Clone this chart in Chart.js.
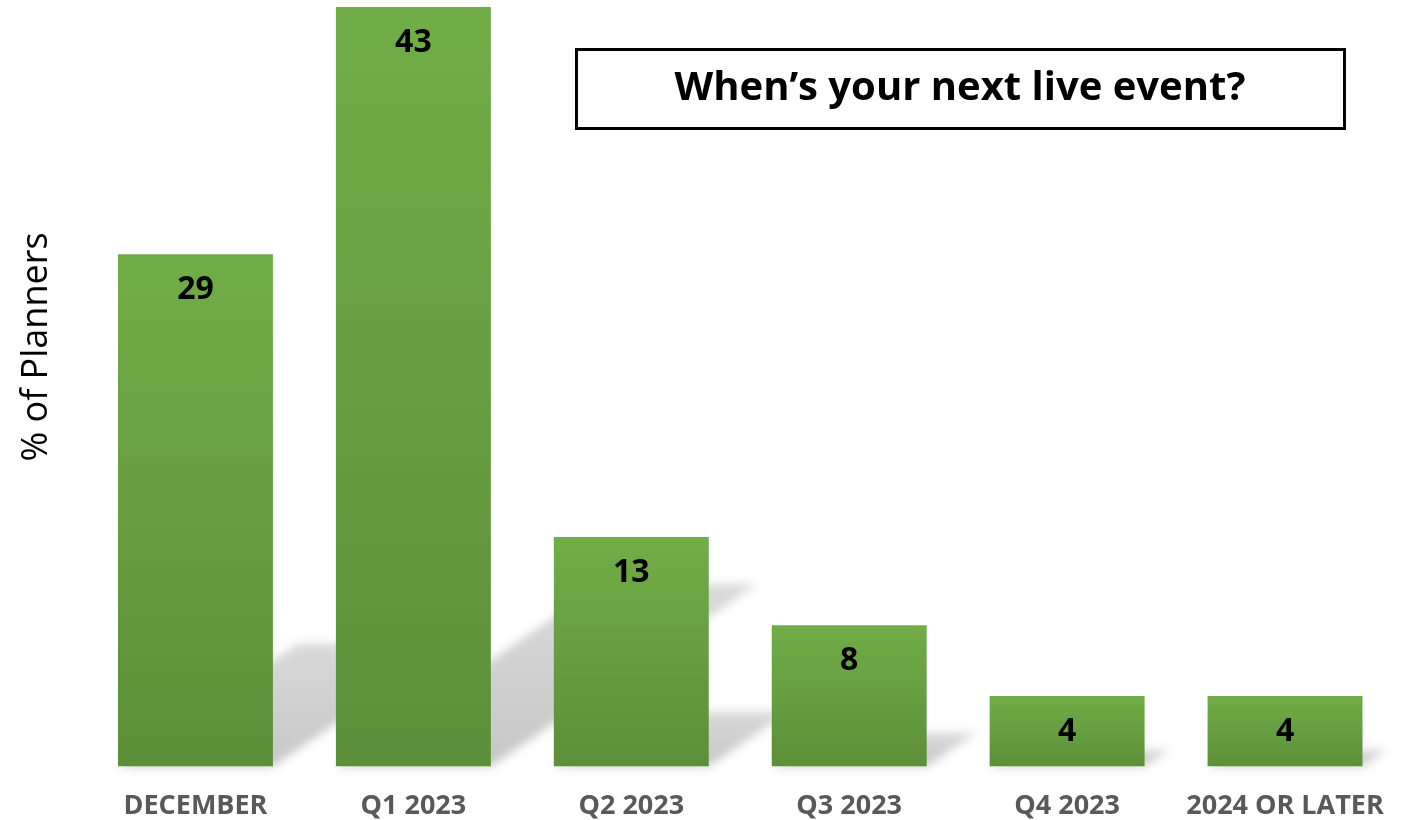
<!DOCTYPE html>
<html>
<head>
<meta charset="utf-8">
<script src="https://cdn.jsdelivr.net/npm/chart.js@4.4.1/dist/chart.umd.min.js"></script>
<style>
  html, body { margin: 0; padding: 0; background: #fff; }
  #wrap { width: 1414px; height: 820px; position: relative; }
</style>
</head>
<body>
<div id="wrap"><canvas id="eventChart"></canvas></div>
<script>
const labels = ['DECEMBER', 'Q1 2023', 'Q2 2023', 'Q3 2023', 'Q4 2023', '2024 OR LATER'];
const planners = [29, 43, 13, 8, 4, 4];
const chartTitle = 'When\u2019s your next live event?';
const axisTitle = '% of Planners';

// floor shadow behind each bar, leaning up and to the right
const barShadows = {
  id: 'barShadows',
  beforeDatasetsDraw(chart) {
    const ctx = chart.ctx;
    const meta = chart.getDatasetMeta(0);
    ctx.save();
    ctx.filter = 'blur(5px)';
    meta.data.forEach(bar => {
      const h = bar.base - bar.y;
      const dx = h * 0.35, dy = h * 0.24;
      const left = bar.x - bar.width / 2, right = bar.x + bar.width / 2;
      const g = ctx.createLinearGradient(0, bar.base, 0, bar.base - dy);
      g.addColorStop(0, 'rgba(0,0,0,0.22)');
      g.addColorStop(1, 'rgba(0,0,0,0.15)');
      ctx.fillStyle = g;
      ctx.beginPath();
      ctx.moveTo(left, bar.base);
      ctx.lineTo(right, bar.base);
      ctx.lineTo(right + dx, bar.base - dy);
      ctx.lineTo(left + dx, bar.base - dy);
      ctx.closePath();
      ctx.fill();
    });
    ctx.restore();
  }
};

// value written inside the top of each bar
const barValues = {
  id: 'barValues',
  afterDatasetsDraw(chart) {
    const ctx = chart.ctx;
    const meta = chart.getDatasetMeta(0);
    ctx.save();
    ctx.font = 'bold 32px "Open Sans"';
    ctx.fillStyle = '#000';
    ctx.textAlign = 'center';
    ctx.textBaseline = 'middle';
    meta.data.forEach((bar, i) => {
      ctx.fillText(planners[i], bar.x, bar.y + 36);
    });
    ctx.restore();
  }
};

// boxed title in the upper right, plus the rotated axis caption
const titleBox = {
  id: 'titleBox',
  afterDraw(chart) {
    const ctx = chart.ctx;
    ctx.save();
    ctx.fillStyle = '#fff';
    ctx.fillRect(576, 49, 769, 80);
    ctx.lineWidth = 3;
    ctx.strokeStyle = '#000';
    ctx.strokeRect(576.5, 49.5, 768, 79);
    ctx.font = 'bold 40px "Open Sans"';
    ctx.fillStyle = '#000';
    ctx.textAlign = 'center';
    ctx.textBaseline = 'middle';
    ctx.fillText(chartTitle, 960, 89);

    ctx.translate(37, 347);
    ctx.rotate(-Math.PI / 2);
    ctx.font = '36px "Open Sans"';
    ctx.fillText(axisTitle, 0, 0);
    ctx.restore();
  }
};

function barGradient(context) {
  const chart = context.chart;
  if (!chart.chartArea) return '#6aa344';
  const y = chart.scales.y;
  const top = y.getPixelForValue(planners[context.dataIndex]);
  const bottom = y.getPixelForValue(0);
  const g = chart.ctx.createLinearGradient(0, top, 0, bottom);
  g.addColorStop(0, '#71ad47');
  g.addColorStop(1, '#5c8f39');
  return g;
}

const ctx = document.getElementById('eventChart');
new Chart(ctx, {
  type: 'bar',
  data: {
    labels: labels,
    datasets: [{
      data: planners,
      backgroundColor: barGradient,
      borderWidth: 0,
      categoryPercentage: 1,
      barPercentage: 0.711,
    }],
  },
  options: {
    responsive: true,
    maintainAspectRatio: false,
    animation: false,
    layout: { padding: { left: 86.5, right: 20, top: 7, bottom: -27 } },
    plugins: {
      legend: { display: false },
      tooltip: { enabled: false },
    },
    scales: {
      x: {
        grid: { display: false, drawTicks: false },
        border: { display: false },
        ticks: {
          color: '#595959',
          padding: 24,
          font: { family: '"Open Sans"', size: 27, weight: 'bold' },
          maxRotation: 0,
          autoSkip: false,
        },
      },
      y: {
        display: false,
        min: 0,
        max: 43,
      },
    },
  },
  plugins: [barShadows, barValues, titleBox],
});
</script>
</body>
</html>
